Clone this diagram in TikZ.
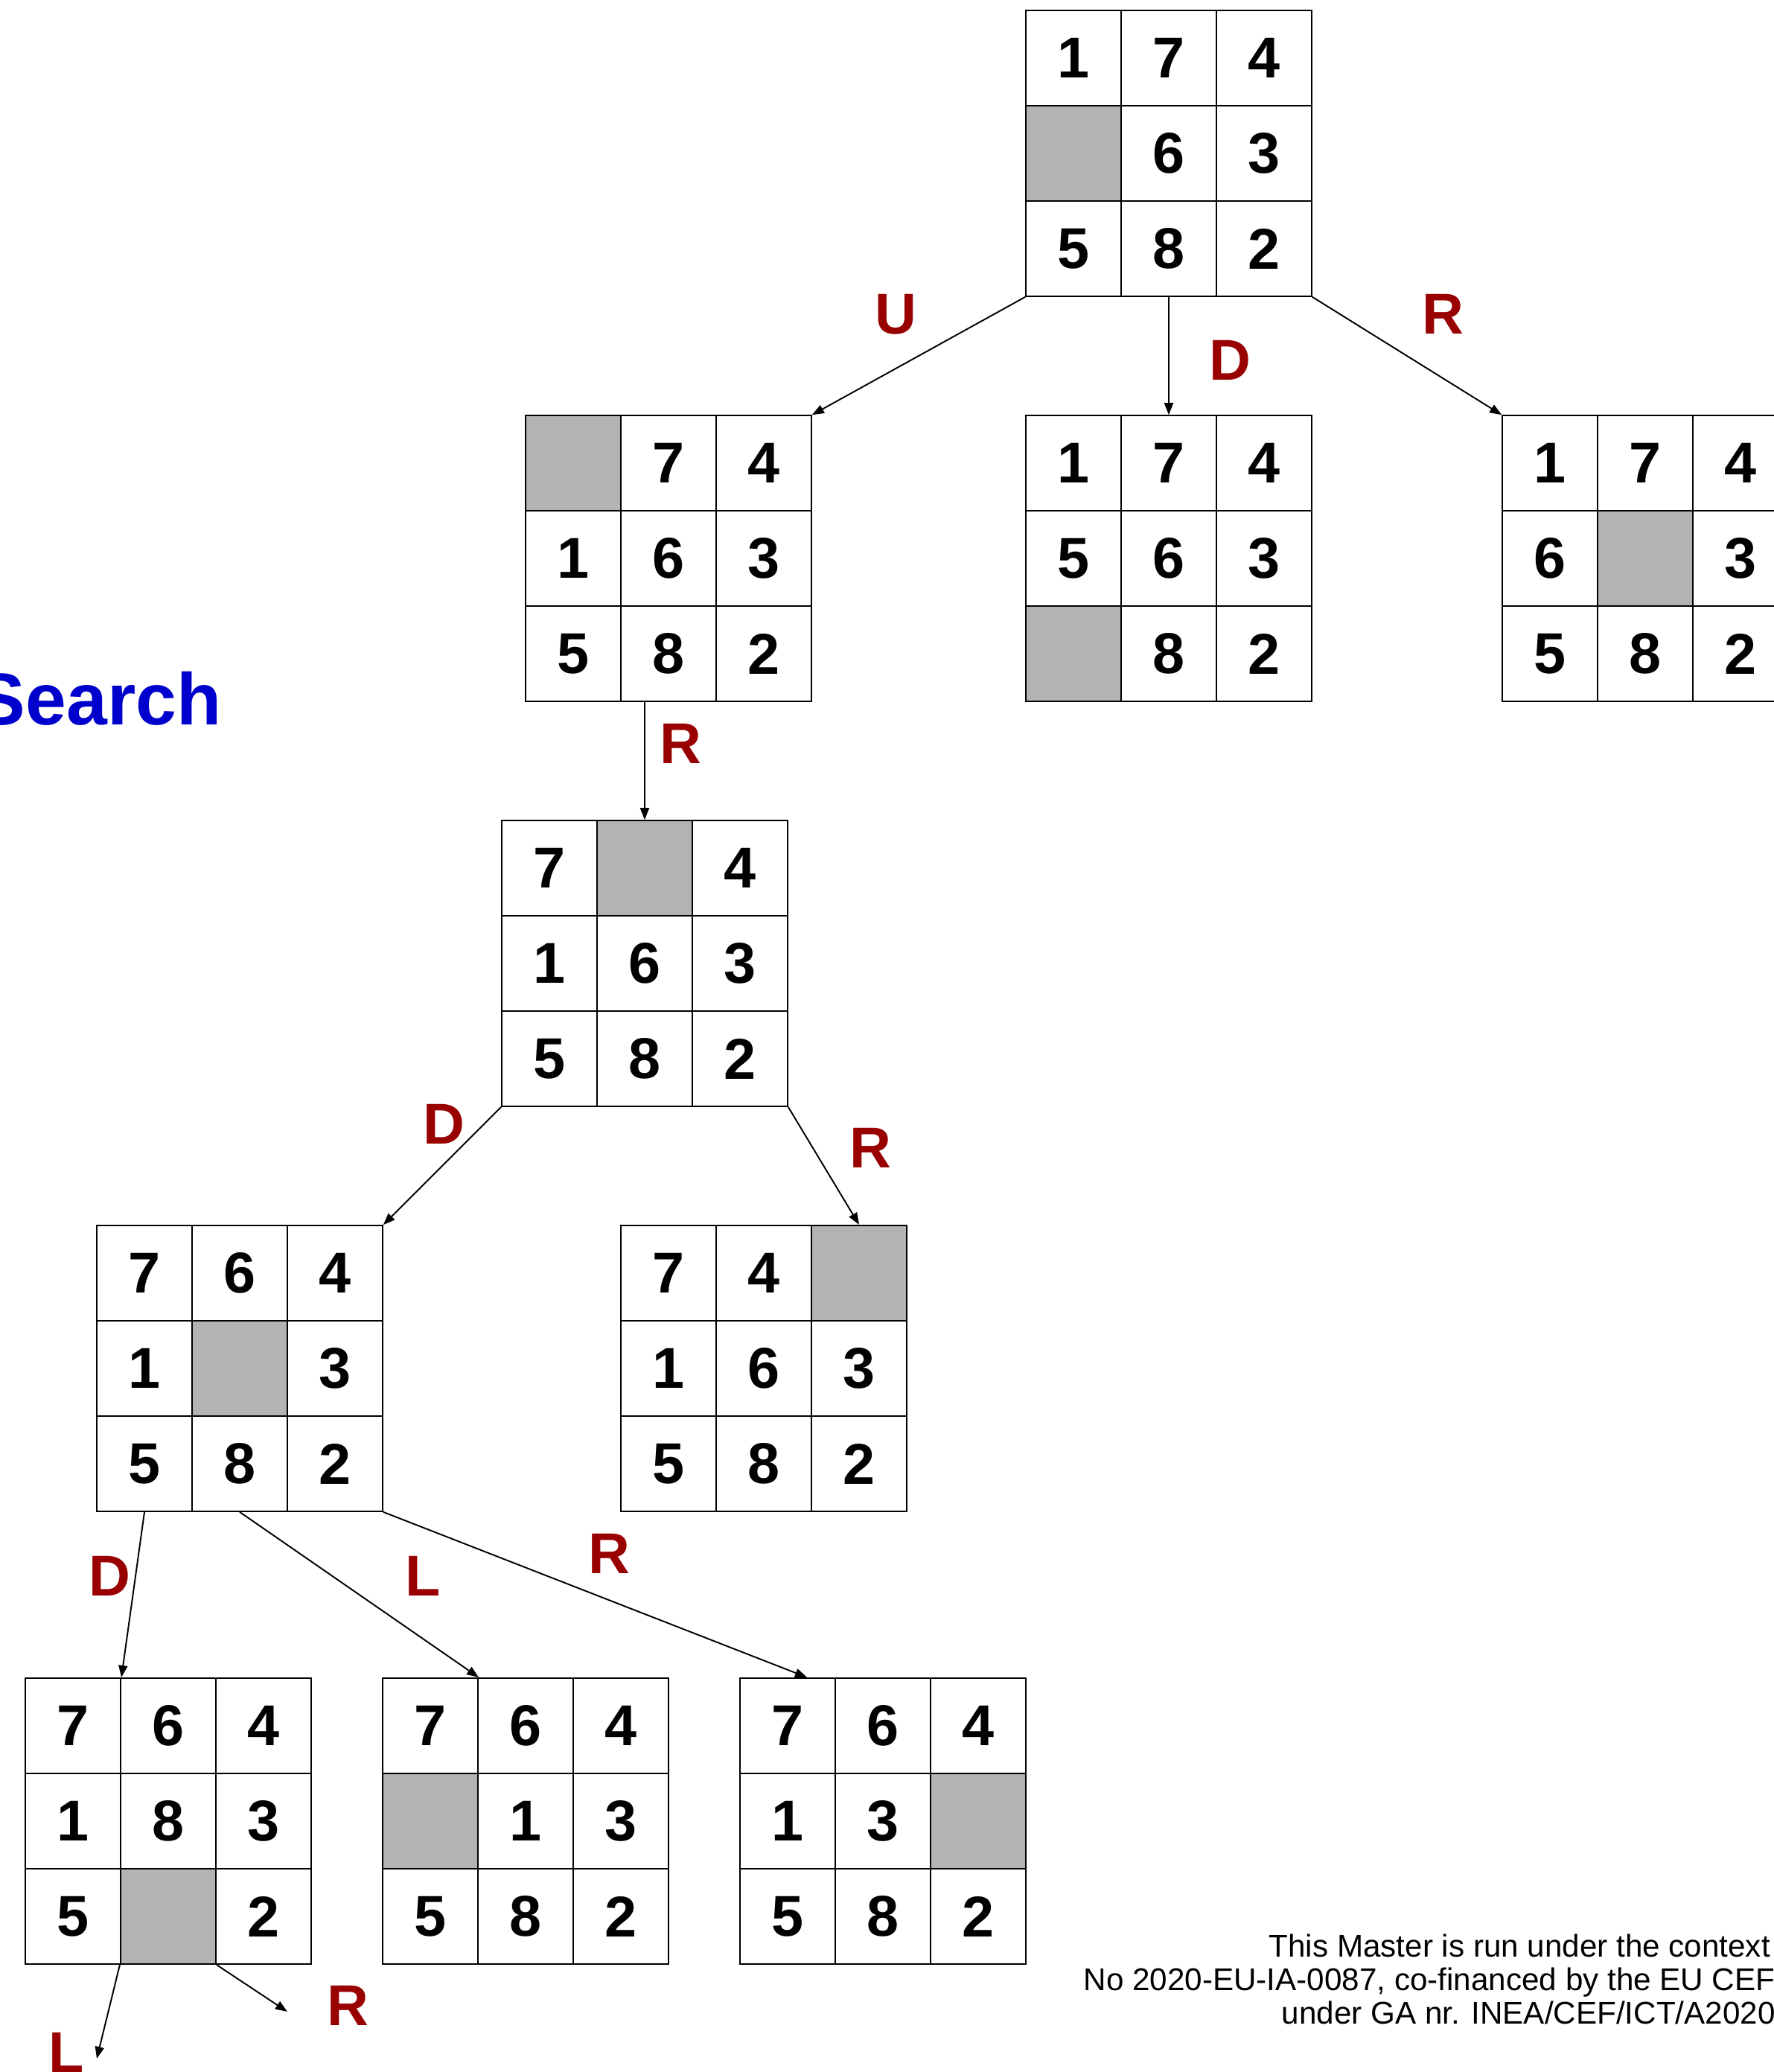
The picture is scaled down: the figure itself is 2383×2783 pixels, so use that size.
\documentclass[tikz,border=0pt]{standalone}
\usepackage{fontspec}
\setmainfont{Liberation Sans}
\usetikzlibrary{arrows.meta,calc}
\definecolor{gapgray}{RGB}{179,179,179}
\definecolor{lblred}{RGB}{153,0,0}
\definecolor{titleblue}{RGB}{0,0,204}
\tikzset{
  cell/.style={draw=black,line width=0.6pt,fill=white,minimum size=1.28cm,inner sep=0pt,
    font=\fontsize{22}{26}\selectfont\bfseries},
  board/.style={minimum size=3.84cm,inner sep=0pt},
  move/.style={draw=black,line width=0.55pt,-{Triangle[length=0.16cm,width=0.12cm]}},
  lbl/.style={text=lblred,inner sep=0pt,font=\fontsize{22}{26}\selectfont\bfseries},
  foot/.style={inner sep=0pt,anchor=base west,font=\fontsize{12}{14}\selectfont}
}
\newcommand\puz[4]{%
  \node[board] (#1) at (#2+192,#3+192) {};
  \foreach \v [count=\i from 0] in {#4} {
    \pgfmathtruncatemacro\rr{\i/3}
    \pgfmathtruncatemacro\cc{\i-3*\rr}
    \if x\v
      \node[cell,fill=gapgray] (#1-\i) at (#2+64+128*\cc,#3+64+128*\rr) {};
    \else
      \node[cell] (#1-\i) at (#2+64+128*\cc,#3+64+128*\rr) {\v};
    \fi
  }%
}
\begin{document}
\begin{tikzpicture}[x=0.01cm,y=-0.01cm]
\useasboundingbox (0,0) rectangle (2383,2783);
\clip (0,0) rectangle (2383,2783);
% boards
\puz{root}{1378}{14}{1,7,4,x,6,3,5,8,2}
\puz{la}{706}{558}{x,7,4,1,6,3,5,8,2}
\puz{lb}{1378}{558}{1,7,4,5,6,3,x,8,2}
\puz{lc}{2018}{558}{1,7,4,6,x,3,5,8,2}
\puz{m}{674}{1102}{7,x,4,1,6,3,5,8,2}
\puz{na}{130}{1646}{7,6,4,1,x,3,5,8,2}
\puz{nb}{834}{1646}{7,4,x,1,6,3,5,8,2}
\puz{pa}{34}{2254}{7,6,4,1,8,3,5,x,2}
\puz{pb}{514}{2254}{7,6,4,x,1,3,5,8,2}
\puz{pc}{994}{2254}{7,6,4,1,3,x,5,8,2}
% free ends
\coordinate (endL) at (130,2765);
\coordinate (endR) at (386,2702);
% connectors
\draw[move] (root.south west) -- (la.north east);
\draw[move] (root.south) -- (lb.north);
\draw[move] (root.south east) -- (lc.north west);
\draw[move] (m.north |- la.south) -- (m.north);
\draw[move] (m.south west) -- (na.north east);
\draw[move] (m.south east) -- (nb-2.north);
\draw[move] (na-6.south) -- (pa-0.north east);
\draw[move] (na.south) -- (pb-0.north east);
\draw[move] (na.south east) -- ($(pc-0.north)!0.4!(pc-0.north east)$);
\draw[move] (pa-7.south west) -- (endL);
\draw[move] (pa-7.south east) -- (endR);
% labels
\node[lbl] (tU) at (1203,422) {U};
\node[lbl] (tD0) at (1652,484) {D};
\node[lbl] (tR0) at (1938,422) {R};
\node[lbl] (tR1) at (914,999) {R};
\node[lbl] (tD2) at (596,1510) {D};
\node[lbl] (tR2) at (1169,1542) {R};
\node[lbl] (tD3) at (147,2117) {D};
\node[lbl] (tL3) at (568,2117) {L};
\node[lbl] (tR3) at (818,2087) {R};
\node[lbl] (tR4) at (467,2694) {R};
\node[lbl] (tL4) at (89,2757) {L};
% title fragment
\node[anchor=base east,inner sep=0pt,text=titleblue,font=\fontsize{28}{32}\selectfont\bfseries] (title) at (298,973) {Search};
% footer
\node[foot] (f1) at (1704,2628) {This Master is run under the context};
\node[foot] (f2) at (1455,2673) {No 2020-EU-IA-0087, co-financed by the EU CEF};
\node[foot] (f3) at (1721,2718) {under GA nr. INEA/CEF/ICT/A2020};
\end{tikzpicture}
\end{document}
